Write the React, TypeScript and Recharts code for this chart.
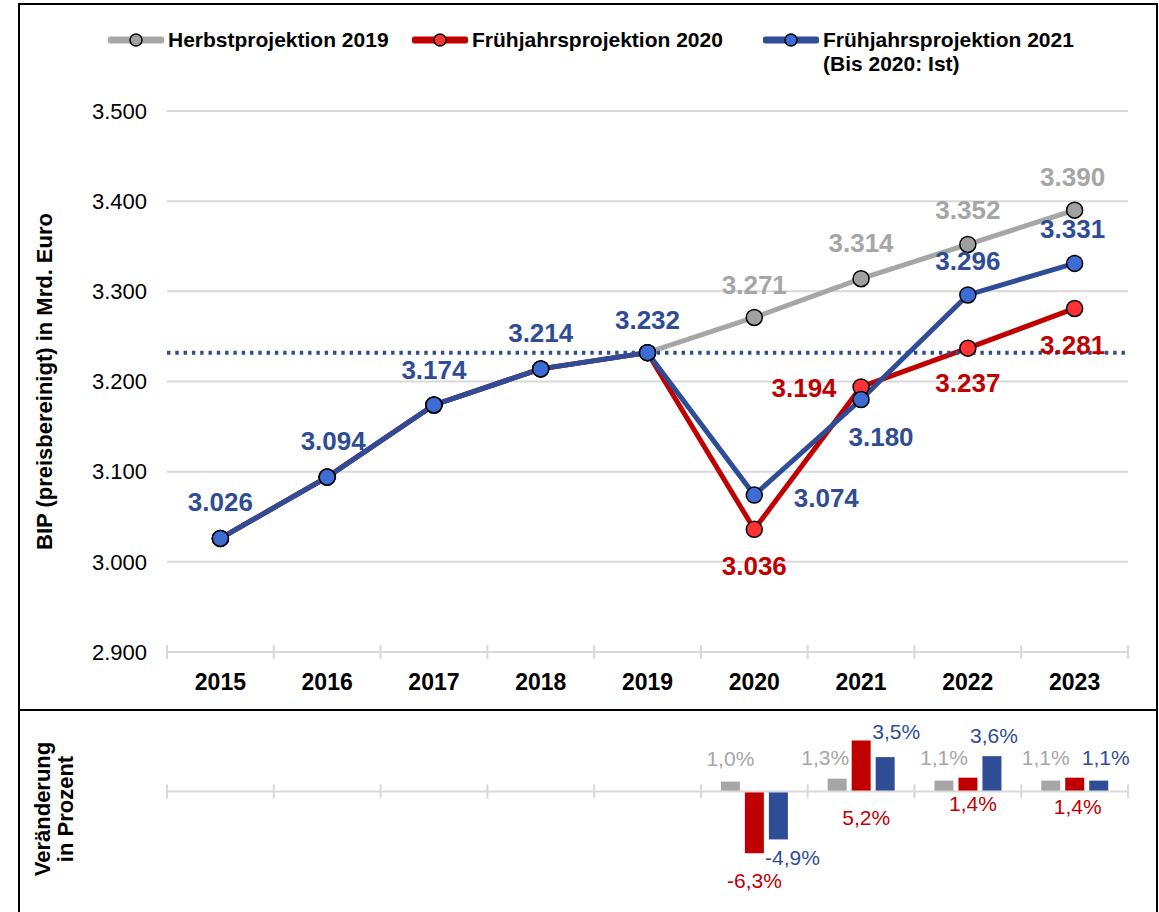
import React from "react"
import { LineChart, Line, BarChart, Bar, XAxis, YAxis, CartesianGrid, ReferenceLine, LabelList, Label } from "recharts"

const years = ["2015", "2016", "2017", "2018", "2019", "2020", "2021", "2022", "2023"]
const herbst2019 = [3026, 3094, 3174, 3214, 3232, 3271, 3314, 3352, 3390]
const fj2020 = [3026, 3094, 3174, 3214, 3232, 3036, 3194, 3237, 3281]
const fj2021 = [3026, 3094, 3174, 3214, 3232, 3074, 3180, 3296, 3331]
const yTicks = [2900, 3000, 3100, 3200, 3300, 3400, 3500]
const ist2019 = 3232

const chgHerbst2019 = [null, null, null, null, null, 1.0, 1.3, 1.1, 1.1]
const chgFj2020 = [null, null, null, null, null, -6.3, 5.2, 1.4, 1.4]
const chgFj2021 = [null, null, null, null, null, -4.9, 3.5, 3.6, 1.1]

const GREY = "#a6a6a6"
const RED = "#c00000"
const BLUE = "#2f4d96"
const FONT = "Arial, 'Liberation Sans', sans-serif"

const W = 1159
const PLOT_LEFT = 167
const PLOT_RIGHT = 31
const BAND = (W - PLOT_LEFT - PLOT_RIGHT) / years.length

type Off = [number, number] | null

// label nudges [dx, dy] per year index, null = no label
const blueOff: Off[] = [[0, -36], [6, -36], [0, -35], [0, -36], [0, -33], [72, 3], [20, 37], [0, -34], [-2, -34]]
const redOff: Off[] = [null, null, null, null, null, [0, 37], [-57, 1], [0, 35], [-2, 37]]
const greyOff: Off[] = [null, null, null, null, null, [0, -32], [0, -36], [0, -34], [-2, -33]]

const barGreyOff: Off[] = [null, null, null, null, null, [0, -23], [-12, -21], [0, -23], [-5, -23]]
const barRedOff: Off[] = [null, null, null, null, null, [0, 27], [5, 26], [5, 12], [3, 15]]
const barBlueOff: Off[] = [null, null, null, null, null, [14, 18], [11, -26], [2, -21], [7, -23]]

const lineData = years.map((y, i) => ({ year: y, herbst: herbst2019[i], fj20: fj2020[i], fj21: fj2021[i] }))
const barData = years.map((y, i) => ({ year: y, herbst: chgHerbst2019[i], fj20: chgFj2020[i], fj21: chgFj2021[i] }))

const fmt = (v: number) => `${Math.floor(v / 1000)}.${String(v % 1000).padStart(3, "0")}`
const pct = (v: number) => `${v.toFixed(1).replace(".", ",")}%`

const lineLabel = (offs: Off[], color: string) => (p: any) => {
  const o = offs[p.index]
  if (!o || p.value == null) return null
  return (
    <text x={p.x + o[0]} y={p.y + o[1]} textAnchor="middle" dominantBaseline="central"
      fill={color} fontSize={26} fontWeight="bold" fontFamily={FONT}>
      {fmt(p.value)}
    </text>
  )
}

// bars with null values get dropped, so find the year from the bar's x
// red labels hang from the bar foot, grey/blue from the bar end
const barLabel = (values: (number | null)[], offs: Off[], color: string, fromBottom: boolean) => (p: any) => {
  const vb = p.viewBox ?? {}
  const x = vb.x ?? p.x
  const y = vb.y ?? p.y
  const w = vb.width ?? p.width
  const h = vb.height ?? p.height
  if (x == null || y == null) return null
  const idx = Math.floor((x + w / 2 - PLOT_LEFT) / BAND)
  const o = offs[idx]
  const v = values[idx]
  if (!o || v == null) return null
  const top = Math.min(y, y + h)
  const bottom = Math.max(y, y + h)
  const anchor = fromBottom || v < 0 ? bottom : top
  return (
    <text x={x + w / 2 + o[0]} y={anchor + o[1]} textAnchor="middle" dominantBaseline="central"
      fill={color} fontSize={21} fontFamily={FONT}>
      {pct(v)}
    </text>
  )
}

const YearTick = (p: any) => (
  <g>
    <line x1={p.x - BAND / 2} x2={p.x - BAND / 2} y1={p.y - 7} y2={p.y + 7} stroke="#d9d9d9" strokeWidth={2} />
    {p.index === years.length - 1 && (
      <line x1={p.x + BAND / 2} x2={p.x + BAND / 2} y1={p.y - 7} y2={p.y + 7} stroke="#d9d9d9" strokeWidth={2} />
    )}
    <text x={p.x} y={p.y + 30} textAnchor="middle" dominantBaseline="central"
      fontSize={23} fontWeight="bold" fontFamily={FONT} fill="#000">
      {p.payload.value}
    </text>
  </g>
)

const BAR_H = 202
const BAR_M = 3
const BAR_DOMAIN: [number, number] = [-12, 8]
const ZERO_UP = (BAR_H - 2 * BAR_M) * (-BAR_DOMAIN[0]) / (BAR_DOMAIN[1] - BAR_DOMAIN[0])

const ZeroTick = (p: any) => {
  const zy = p.y - ZERO_UP
  return (
    <g>
      <line x1={p.x - BAND / 2} x2={p.x - BAND / 2} y1={zy - 7} y2={zy + 7} stroke="#d9d9d9" strokeWidth={2} />
      {p.index === years.length - 1 && (
        <line x1={p.x + BAND / 2} x2={p.x + BAND / 2} y1={zy - 7} y2={zy + 7} stroke="#d9d9d9" strokeWidth={2} />
      )}
    </g>
  )
}

const legendItems = [
  { name: "Herbstprojektion 2019", line: GREY, dot: "#a0a0a0", left: 108 },
  { name: "Frühjahrsprojektion 2020", line: RED, dot: "#ff3333", left: 412 },
  { name: "Frühjahrsprojektion 2021", sub: "(Bis 2020: Ist)", line: BLUE, dot: "#3c6cd4", left: 763 },
]

const App = () => {
  return (
    <div style={{ position: "absolute", left: 0, top: 0, width: W, height: 912, overflow: "hidden", background: "#fff", fontFamily: FONT }}>
      <div style={{ position: "absolute", left: 18, top: 3, width: 1140, height: 960, border: "2px solid #000", boxSizing: "border-box" }} />
      <div style={{ position: "absolute", left: 18, top: 709, width: 1140, height: 2, background: "#000" }} />

      {legendItems.map((it) => (
        <div key={it.name} style={{ position: "absolute", left: it.left, top: 28, display: "flex", alignItems: "flex-start" }}>
          <svg width={56} height={24} style={{ flex: "none" }}>
            <line x1={3} x2={53} y1={12} y2={12} stroke={it.line} strokeWidth={7} strokeLinecap="round" />
            <circle cx={28} cy={12} r={6} fill={it.dot} stroke="#000" strokeWidth={1.5} />
          </svg>
          <div style={{ marginLeft: 4, fontSize: 21, fontWeight: "bold", lineHeight: "24px", color: "#000", whiteSpace: "nowrap" }}>
            {it.name}
            {it.sub && <div>{it.sub}</div>}
          </div>
        </div>
      ))}

      <div style={{ position: "absolute", left: 0, top: 0 }}>
        <LineChart width={W} height={710} data={lineData} margin={{ top: 111, right: PLOT_RIGHT, bottom: 8, left: 0 }}>
          <CartesianGrid vertical={false} stroke="#d9d9d9" strokeWidth={2} />
          <XAxis dataKey="year" height={50} padding={{ left: BAND / 2, right: BAND / 2 }}
            axisLine={{ stroke: "#d9d9d9", strokeWidth: 2 }} tickLine={false}
            tickSize={0} tickMargin={0} interval={0} tick={(p: any) => <YearTick {...p} />} />
          <YAxis width={PLOT_LEFT} domain={[2900, 3500]} ticks={yTicks} tickFormatter={fmt} axisLine={false}
            tickLine={false} tickSize={0} tickMargin={20}
            tick={{ fontSize: 22, fill: "#000", fontFamily: FONT }}>
            <Label content={({ viewBox }: any) => {
              const cy = viewBox.y + viewBox.height / 2
              return (
                <text x={44} y={cy} transform={`rotate(-90 44 ${cy})`} textAnchor="middle" dominantBaseline="central"
                  fontSize={22} fontWeight="bold" fontFamily={FONT} fill="#000">
                  BIP (preisbereinigt) in Mrd. Euro
                </text>
              )
            }} />
          </YAxis>
          <Line dataKey="herbst" stroke={GREY} strokeWidth={5} isAnimationActive={false}
            dot={{ r: 8, fill: "#a0a0a0", stroke: "#000", strokeWidth: 1.5 }}>
            <LabelList dataKey="herbst" content={lineLabel(greyOff, GREY)} />
          </Line>
          <Line dataKey="fj20" stroke={RED} strokeWidth={5} isAnimationActive={false}
            dot={{ r: 8, fill: "#ff3333", stroke: "#000", strokeWidth: 1.5 }}>
            <LabelList dataKey="fj20" content={lineLabel(redOff, RED)} />
          </Line>
          <Line dataKey="fj21" stroke={BLUE} strokeWidth={5} isAnimationActive={false}
            dot={{ r: 8, fill: "#3c6cd4", stroke: "#000", strokeWidth: 1.5 }}>
            <LabelList dataKey="fj21" content={lineLabel(blueOff, BLUE)} />
          </Line>
          <ReferenceLine y={ist2019} stroke={BLUE} strokeWidth={4} strokeDasharray="3.4 4.9" />
        </LineChart>
      </div>

      <div style={{ position: "absolute", left: 0, top: 710 }}>
        <BarChart width={W} height={BAR_H} data={barData} margin={{ top: BAR_M, right: PLOT_RIGHT, bottom: BAR_M - 1, left: 0 }}
          barSize={19} barGap={5}>
          <XAxis dataKey="year" height={1} axisLine={false} tickLine={false} tickSize={0} tickMargin={0}
            interval={0} tick={(p: any) => <ZeroTick {...p} />} />
          <YAxis width={PLOT_LEFT} domain={BAR_DOMAIN} tick={false} axisLine={false} tickLine={false}>
            <Label content={({ viewBox }: any) => {
              const cy = viewBox.y + viewBox.height / 2 - 2
              return (
                <text transform={`rotate(-90 53 ${cy})`} textAnchor="middle" dominantBaseline="central"
                  fontSize={22} fontWeight="bold" fontFamily={FONT} fill="#000">
                  <tspan x={53} y={cy - 11}>Veränderung</tspan>
                  <tspan x={53} y={cy + 12}>in Prozent</tspan>
                </text>
              )
            }} />
          </YAxis>
          <ReferenceLine y={0} stroke="#d9d9d9" strokeWidth={2} />
          <Bar dataKey="herbst" fill={GREY} isAnimationActive={false}>
            <LabelList dataKey="herbst" content={barLabel(chgHerbst2019, barGreyOff, GREY, false)} />
          </Bar>
          <Bar dataKey="fj20" fill={RED} isAnimationActive={false}>
            <LabelList dataKey="fj20" content={barLabel(chgFj2020, barRedOff, RED, true)} />
          </Bar>
          <Bar dataKey="fj21" fill={BLUE} isAnimationActive={false}>
            <LabelList dataKey="fj21" content={barLabel(chgFj2021, barBlueOff, BLUE, false)} />
          </Bar>
        </BarChart>
      </div>
    </div>
  )
}

export default App
